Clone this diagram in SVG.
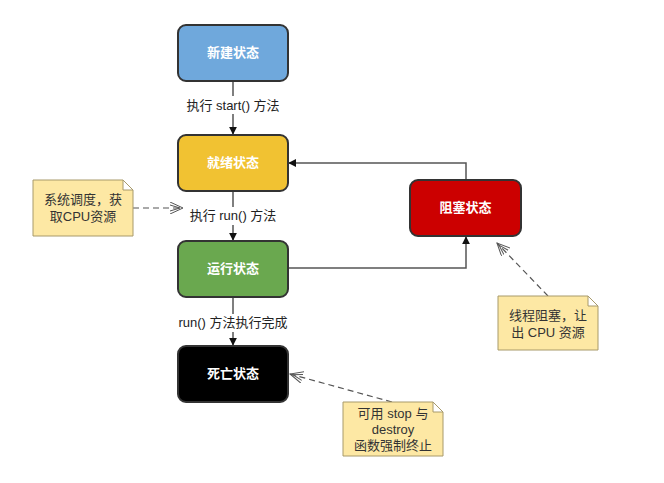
<svg xmlns="http://www.w3.org/2000/svg" width="664" height="483" viewBox="0 0 664 483">
<defs>
<style>
.node rect{stroke:#333;stroke-width:2}
.nt{font-family:"Liberation Sans","Noto Sans CJK SC",sans-serif;font-size:13px;font-weight:bold;fill:#fff;text-anchor:middle}
.lbl{font-family:"Liberation Sans","Noto Sans CJK SC",sans-serif;font-size:13px;fill:#222;text-anchor:middle}
.note path{fill:#fde8a4;stroke:#a89a6a;stroke-width:1}
.ntx{font-family:"Liberation Sans","Noto Sans CJK SC",sans-serif;font-size:13px;fill:#333;text-anchor:middle}
.edge{fill:none;stroke:#555;stroke-width:1.5}
.dash{fill:none;stroke:#555;stroke-width:1.2;stroke-dasharray:6 4}
</style>
<marker id="ah" viewBox="0 0 10 10" refX="9" refY="5" markerWidth="8" markerHeight="8" orient="auto" markerUnits="userSpaceOnUse">
<path d="M0,0 L10,5 L0,10 z" fill="#111"/>
</marker>
<marker id="oh" viewBox="0 0 14 12" refX="13" refY="6" markerWidth="14" markerHeight="12" orient="auto" markerUnits="userSpaceOnUse">
<path d="M0,0 L13,6 L0,12 M0,3 L10,6 L0,9" fill="none" stroke="#555" stroke-width="1"/>
</marker>
</defs>
<rect width="664" height="483" fill="#fff"/>
<g id="connectors">
<line class="edge" x1="233" y1="81" x2="233" y2="134" marker-end="url(#ah)"/>
<line class="edge" x1="233" y1="192" x2="233" y2="240" marker-end="url(#ah)"/>
<line class="edge" x1="233" y1="298" x2="233" y2="345" marker-end="url(#ah)"/>
<polyline class="edge" points="289,268 466,268 466,237" marker-end="url(#ah)"/>
<polyline class="edge" points="466,180 466,163 289,163" marker-end="url(#ah)"/>
<rect x="178" y="96" width="110" height="18" fill="#fff"/>
<text class="lbl" x="233" y="110">执行 start() 方法</text>
<rect x="183" y="207" width="100" height="18" fill="#fff"/>
<text class="lbl" x="233" y="220">执行 run() 方法</text>
<rect x="168" y="314" width="130" height="18" fill="#fff"/>
<text class="lbl" x="233" y="327">run() 方法执行完成</text>
<line class="dash" x1="133" y1="208" x2="183" y2="208" marker-end="url(#oh)"/>
<line class="dash" x1="548" y1="296" x2="497" y2="243" marker-end="url(#oh)"/>
<line class="dash" x1="392" y1="402" x2="290" y2="374" marker-end="url(#oh)"/>
</g>
<g id="new" class="node"><rect x="178" y="25" width="110" height="56" rx="8" fill="#6fa8dc"/><text class="nt" x="233" y="57">新建状态</text></g>
<g id="ready" class="node"><rect x="178" y="135" width="110" height="56" rx="8" fill="#f1c232"/><text class="nt" x="233" y="167">就绪状态</text></g>
<g id="running" class="node"><rect x="178" y="241" width="110" height="56" rx="8" fill="#6aa84f"/><text class="nt" x="233" y="273">运行状态</text></g>
<g id="dead" class="node"><rect x="178" y="346" width="110" height="56" rx="8" fill="#000"/><text class="nt" x="233" y="378">死亡状态</text></g>
<g id="blocked" class="node"><rect x="410" y="180" width="111" height="56" rx="8" fill="#cc0000"/><text class="nt" x="465.5" y="212">阻塞状态</text></g>
<g id="note1" class="note"><path d="M33,180 H123 L133,190 V236 H33 Z M123,180 V190 H133"/><text class="ntx" x="83" y="204">系统调度，获</text><text class="ntx" x="83" y="221">取CPU资源</text></g>
<g id="note2" class="note"><path d="M498,296 H588 L598,306 V350 H498 Z M588,296 V306 H598"/><text class="ntx" x="548" y="320">线程阻塞，让</text><text class="ntx" x="548" y="337">出 CPU 资源</text></g>
<g id="note3" class="note"><path d="M343,402 H433 L443,412 V456 H343 Z M433,402 V412 H443"/><text class="ntx" x="393" y="418">可用 stop 与</text><text class="ntx" x="393" y="434">destroy</text><text class="ntx" x="393" y="450">函数强制终止</text></g>
</svg>
